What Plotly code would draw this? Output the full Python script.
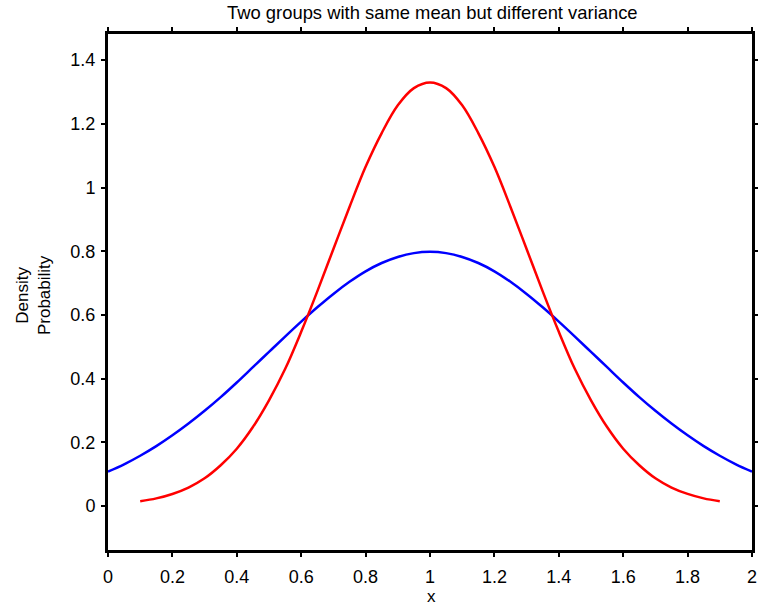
import plotly.graph_objects as go

# Blue curve (wider group)
blue_x = [0.0, 0.05, 0.1, 0.15, 0.2, 0.25, 0.3, 0.35, 0.4, 0.45, 0.5, 0.55, 0.6, 0.65, 0.7, 0.75, 0.8, 0.85, 0.9, 0.95, 1.0,
          1.05, 1.1, 1.15, 1.2, 1.25, 1.3, 1.35, 1.4, 1.45, 1.5, 1.55, 1.6, 1.65, 1.7, 1.75, 1.8, 1.85, 1.9, 1.95, 2.0]
blue_y = [0.108, 0.131, 0.158, 0.188, 0.222, 0.259, 0.299, 0.342, 0.388, 0.436, 0.484, 0.532, 0.579, 0.624, 0.666, 0.704, 0.737, 0.763, 0.782, 0.794, 0.798,
          0.794, 0.782, 0.763, 0.737, 0.704, 0.666, 0.624, 0.579, 0.532, 0.484, 0.436, 0.388, 0.342, 0.299, 0.259, 0.222, 0.188, 0.158, 0.131, 0.108]

# Red curve (narrower group)
red_x = [0.1, 0.15, 0.2, 0.25, 0.3, 0.35, 0.4, 0.45, 0.5, 0.55, 0.6, 0.65, 0.7, 0.75, 0.8, 0.85, 0.9, 0.95, 1.0,
         1.05, 1.1, 1.15, 1.2, 1.25, 1.3, 1.35, 1.4, 1.45, 1.5, 1.55, 1.6, 1.65, 1.7, 1.75, 1.8, 1.85, 1.9]
red_y = [0.015, 0.024, 0.038, 0.058, 0.087, 0.128, 0.180, 0.248, 0.332, 0.430, 0.547, 0.674, 0.807, 0.939, 1.065, 1.171, 1.258, 1.312, 1.330,
         1.312, 1.258, 1.171, 1.065, 0.939, 0.807, 0.674, 0.547, 0.430, 0.332, 0.248, 0.180, 0.128, 0.087, 0.058, 0.038, 0.024, 0.015]

x_ticks = [0, 0.2, 0.4, 0.6, 0.8, 1, 1.2, 1.4, 1.6, 1.8, 2]
x_tick_labels = ["0", "0.2", "0.4", "0.6", "0.8", "1", "1.2", "1.4", "1.6", "1.8", "2"]
y_ticks = [0, 0.2, 0.4, 0.6, 0.8, 1, 1.2, 1.4]
y_tick_labels = ["0", "0.2", "0.4", "0.6", "0.8", "1", "1.2", "1.4"]

title_text = "Two groups with same mean but different variance"
x_title = "x"
y_title = "Density<br>Probability"

FONT = "Liberation Sans, Arial, sans-serif"

fig = go.Figure()
fig.add_trace(go.Scatter(x=blue_x, y=blue_y, mode="lines",
                         line=dict(color="#0000ff", width=2.5, shape="spline"), showlegend=False))
fig.add_trace(go.Scatter(x=red_x, y=red_y, mode="lines",
                         line=dict(color="#ff0000", width=2.5, shape="spline"), showlegend=False))

axis_common = dict(showgrid=False, zeroline=False, showline=True, linecolor="black", linewidth=3,
                   mirror="allticks", ticks="outside", ticklen=4, tickwidth=2, tickcolor="black",
                   automargin=False,
                   tickfont=dict(family=FONT, size=18, color="black"))

fig.update_layout(
    width=758, height=611,
    margin=dict(l=108, r=6, t=34, b=61),
    paper_bgcolor="white", plot_bgcolor="white",
    font=dict(family=FONT, color="black"),
    xaxis=dict(range=[0, 2], tickvals=x_ticks, ticktext=x_tick_labels, ticklabelstandoff=4, **axis_common),
    yaxis=dict(range=[-0.138, 1.482], tickvals=y_ticks, ticktext=y_tick_labels, ticklabelstandoff=2, **axis_common),
    annotations=[
        dict(text=title_text, xref="paper", yref="paper", x=0.504, y=1.0407,
             xanchor="center", yanchor="middle", showarrow=False,
             font=dict(family=FONT, size=18.4, color="black")),
        dict(text=x_title, xref="paper", yref="paper", x=0.5016, y=-0.091,
             xanchor="center", yanchor="middle", showarrow=False,
             font=dict(family=FONT, size=17, color="black")),
        dict(text=y_title, xref="paper", yref="paper", x=-0.1165, y=0.494,
             xanchor="center", yanchor="middle", showarrow=False, textangle=-90,
             font=dict(family=FONT, size=17, color="black")),
    ],
)

fig.write_html("out.html", config={"displayModeBar": False, "staticPlot": True},
               post_script="document.body.style.margin='0';document.body.style.overflow='hidden';")
